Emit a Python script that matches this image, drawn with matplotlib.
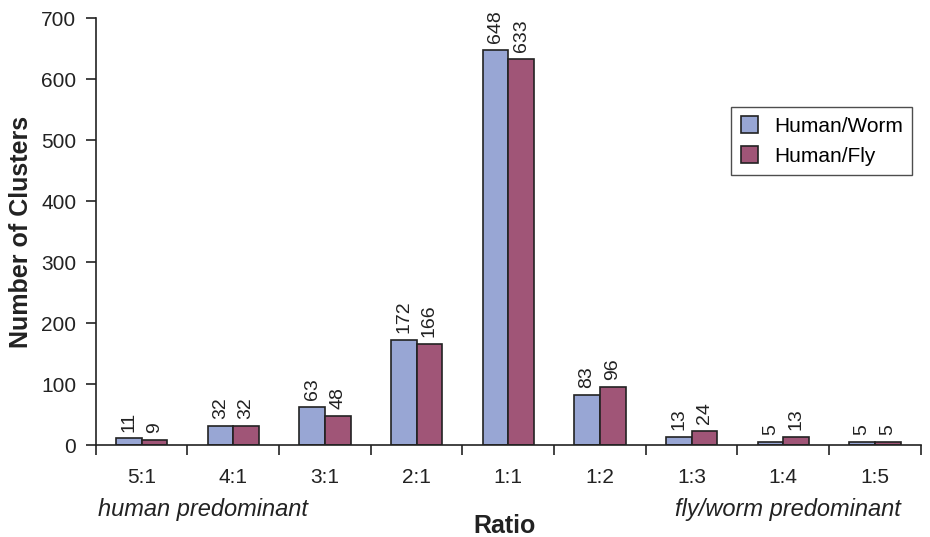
import matplotlib
matplotlib.use("Agg")
import matplotlib.pyplot as plt
import numpy as np

plt.rcParams['font.family'] = ['Liberation Sans', 'DejaVu Sans']

categories = ["5:1", "4:1", "3:1", "2:1", "1:1", "1:2", "1:3", "1:4", "1:5"]
human_worm = [11, 32, 63, 172, 648, 83, 13, 5, 5]
human_fly = [9, 32, 48, 166, 633, 96, 24, 13, 5]
series_names = ["Human/Worm", "Human/Fly"]
colors = ["#98A6D4", "#A05577"]
ink = "#222222"

fig = plt.figure(figsize=(9.3, 5.37), dpi=100)
ax = fig.add_axes([0.103, 0.171, 0.887, 0.795])

x = np.arange(len(categories))
w = 0.28
b1 = ax.bar(x - w/2, human_worm, w, color=colors[0], edgecolor=ink, linewidth=1.2, label=series_names[0])
b2 = ax.bar(x + w/2, human_fly, w, color=colors[1], edgecolor=ink, linewidth=1.2, label=series_names[1])

ymax = 700
for bars, vals in ((b1, human_worm), (b2, human_fly)):
    for r, v in zip(bars, vals):
        ax.annotate(str(v), (r.get_x() + r.get_width()/2, v), xytext=(0, 5),
                    textcoords="offset points", rotation=90,
                    ha="center", va="bottom", fontsize=14, color=ink,
                    annotation_clip=False)

ax.set_xlim(-0.5, len(categories) - 0.5)
ax.set_ylim(0, ymax)
ax.set_yticks(range(0, ymax + 1, 100))
ax.tick_params(axis='y', labelsize=15, length=7, width=1.2, colors=ink, direction='out', pad=7)
ax.set_xticks(np.arange(-0.5, len(categories), 1.0))
ax.set_xticklabels([])
ax.tick_params(axis='x', length=7, width=1.2, direction='out', colors=ink)
for xi, c in zip(x, categories):
    ax.text(xi, -0.075, c, transform=ax.get_xaxis_transform(), ha="center", va="center",
            fontsize=15, color=ink)

ax.spines['top'].set_visible(False)
ax.spines['right'].set_visible(False)
for s in ('left', 'bottom'):
    ax.spines[s].set_linewidth(1.2)
    ax.spines[s].set_color(ink)

fig.text(21/930, 0.569, "Number of Clusters", rotation=90, ha="center", va="center",
         fontsize=18, fontweight="bold", color=ink)
fig.text(505/930, 0.020, "Ratio", ha="center", va="center", fontsize=18, fontweight="bold", color=ink)
fig.text(98/930, 0.052, "human predominant", ha="left", va="center", fontsize=17, style="italic", color=ink)
fig.text(901/930, 0.052, "fly/worm predominant", ha="right", va="center", fontsize=17, style="italic", color=ink)

leg = ax.legend(loc="upper right", bbox_to_anchor=(0.99, 0.792), fontsize=15, frameon=True,
                fancybox=False, edgecolor=ink, handlelength=0.8, handleheight=0.85,
                borderpad=0.45, labelspacing=0.5, handletextpad=0.8, borderaxespad=0)
leg.get_frame().set_linewidth(1.0)

fig.savefig("out.png", dpi=100)
